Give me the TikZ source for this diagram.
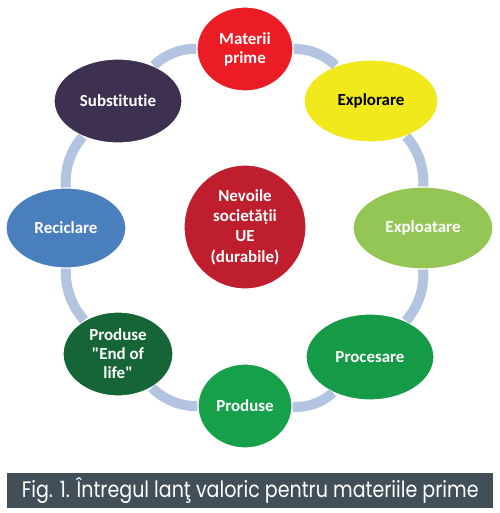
\documentclass[tikz,border=0pt]{standalone}
\usepackage{fontspec}
\newfontfamily\nodefont{Carlito}[Ligatures=NoCommon]
\newfontfamily\capfont{Poppins}[FakeStretch=0.85]
\usetikzlibrary{shapes.geometric}
\definecolor{ringc}{HTML}{B3C4E0}
\definecolor{cMat}{HTML}{EC1C24}
\definecolor{cExr}{HTML}{F1E91C}
\definecolor{cExt}{HTML}{93C655}
\definecolor{cPrc}{HTML}{159B48}
\definecolor{cPrd}{HTML}{17A04A}
\definecolor{cEol}{HTML}{166536}
\definecolor{cRec}{HTML}{4A7FBE}
\definecolor{cSub}{HTML}{3E3050}
\definecolor{cNev}{HTML}{BE1E2D}
\definecolor{capbg}{HTML}{434F58}
\tikzset{
  stage/.style={ellipse, draw=white, line width=1.2bp, inner sep=0pt,
    font=\nodefont\bfseries\fontsize{17}{19}\selectfont, text=white, align=center},
  ringline/.style={draw=ringc, line width=10bp, bend left=22.5, looseness=0.9},
}
\begin{document}
\begin{tikzpicture}[x=1bp,y=-1bp]
\useasboundingbox (0,0) rectangle (500,513);
\fill[white] (0,0) rectangle (500,513);
\node[stage, fill=cMat, minimum width=96bp, minimum height=84bp] (mat) at (245,49) {Materii\\prime};
\node[stage, fill=cExr, text=black, minimum width=134bp, minimum height=82bp] (exr) at (371,101) {Explorare};
\node[stage, fill=cExt, minimum width=140bp, minimum height=82bp] (ext) at (423,228) {Exploatare};
\node[stage, fill=cPrc, minimum width=128bp, minimum height=86bp] (prc) at (370,357) {Procesare};
\node[stage, fill=cPrd, minimum width=94bp, minimum height=84bp] (prd) at (245,406) {Produse};
\node[stage, fill=cEol, minimum width=110bp, minimum height=84bp] (eol) at (118,354) {Produse\\"End of\\life"};
\node[stage, fill=cRec, minimum width=120bp, minimum height=80bp] (rec) at (66,228) {Reciclare};
\node[stage, fill=cSub, minimum width=128bp, minimum height=84bp] (sub) at (118,101) {Substitutie};
\node[stage, fill=cNev, minimum width=122bp, minimum height=124bp, font=\nodefont\bfseries\fontsize{17}{20.5}\selectfont] (nev) at (245,227) {Nevoile\\societății\\UE\\(durabile)};
\draw[ringline] (mat) to (exr);
\draw[ringline] (exr) to (ext);
\draw[ringline] (ext) to (prc);
\draw[ringline] (prc) to (prd);
\draw[ringline] (prd) to (eol);
\draw[ringline] (eol) to (rec);
\draw[ringline] (rec) to (sub);
\draw[ringline] (sub) to (mat);
\node[fill=capbg, minimum width=486bp, minimum height=35bp, inner sep=0pt, anchor=north west,
  text=white, font=\capfont\fontsize{22.5}{24}\selectfont] (cap) at (7,473) {Fig. 1. Întregul lanţ valoric pentru materiile prime};
\end{tikzpicture}
\end{document}
